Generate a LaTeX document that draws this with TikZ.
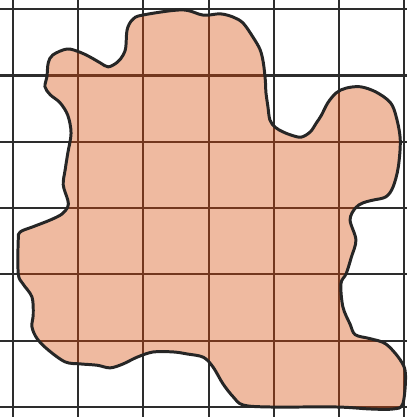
\documentclass[tikz,border=0pt]{standalone}
\definecolor{blobfill}{RGB}{239,186,160}
\definecolor{gridink}{RGB}{45,45,45}
\definecolor{gridbrown}{RGB}{115,55,30}
\newcommand\blobpts{(1.98,5.91) (2.59,5.99) (2.92,5.91) (3.18,5.93) (3.38,5.88) (3.53,5.79)
  (3.68,5.58) (3.79,5.39) (3.84,5.19) (3.87,4.93) (3.88,4.74) (3.91,4.53) (3.94,4.33)
  (4.02,4.22) (4.14,4.15) (4.27,4.10) (4.42,4.07) (4.56,4.15) (4.65,4.28) (4.73,4.40)
  (4.83,4.59) (4.96,4.74) (5.11,4.81) (5.33,4.83) (5.57,4.75) (5.79,4.59) (5.88,4.37)
  (5.94,4.03) (5.91,3.62) (5.83,3.32) (5.72,3.17) (5.52,3.12) (5.37,3.08) (5.25,3.00)
  (5.17,2.82) (5.26,2.52) (5.19,2.26) (5.11,2.01) (5.03,1.86) (5.06,1.51) (5.17,1.25)
  (5.25,1.09) (5.48,1.03) (5.72,0.95) (5.94,0.71) (6.02,0.50) (5.98,0.05) (5.83,-0.03)
  (5.48,-0.03) (4.96,0.00) (3.94,0.00) (3.53,0.03) (3.38,0.15) (3.22,0.35) (3.07,0.60)
  (2.92,0.75) (2.67,0.80) (2.46,0.83) (2.15,0.83) (1.90,0.75) (1.69,0.65) (1.49,0.59)
  (1.29,0.63) (1.03,0.65) (0.80,0.68) (0.54,0.86) (0.37,1.03) (0.29,1.21) (0.31,1.40)
  (0.29,1.66) (0.15,1.86) (0.08,2.01) (0.08,2.52) (0.11,2.64) (0.31,2.72) (0.57,2.82)
  (0.75,2.91) (0.84,3.02) (0.84,3.12) (0.77,3.35) (0.80,3.58) (0.84,3.83) (0.89,4.13)
  (0.84,4.40) (0.72,4.59) (0.57,4.71) (0.49,4.83) (0.52,4.98) (0.54,5.19) (0.61,5.31)
  (0.83,5.40) (1.03,5.35) (1.18,5.28) (1.34,5.19) (1.46,5.13) (1.60,5.20) (1.69,5.31)
  (1.73,5.43) (1.75,5.69) (1.83,5.84)}
\begin{document}
\begin{tikzpicture}[x=1cm, y=1.017cm,
    gridline/.style={draw=gridink, line width=0.9pt},
    gridinside/.style={draw=gridbrown, line width=0.9pt},
    blobline/.style={draw=black!85, line width=1.3pt, line join=round}]
  \useasboundingbox (-0.2,-0.151) rectangle (6.046,6.139);
  % squared paper
  \foreach \i in {0,...,6} {
    \draw[gridline] (\i,-0.151) -- (\i,6.139);
    \draw[gridline] (-0.2,\i) -- (6.046,\i);
  }
  % the shape
  \fill[blobfill] plot[smooth cycle, tension=0.55] coordinates {\blobpts};
  \begin{scope}
    \clip plot[smooth cycle, tension=0.55] coordinates {\blobpts};
    \foreach \i in {0,...,6} {
      \draw[gridinside] (\i,-0.151) -- (\i,6.139);
      \draw[gridinside] (-0.2,\i) -- (6.046,\i);
    }
  \end{scope}
  \draw[blobline] plot[smooth cycle, tension=0.55] coordinates {\blobpts};
\end{tikzpicture}
\end{document}
